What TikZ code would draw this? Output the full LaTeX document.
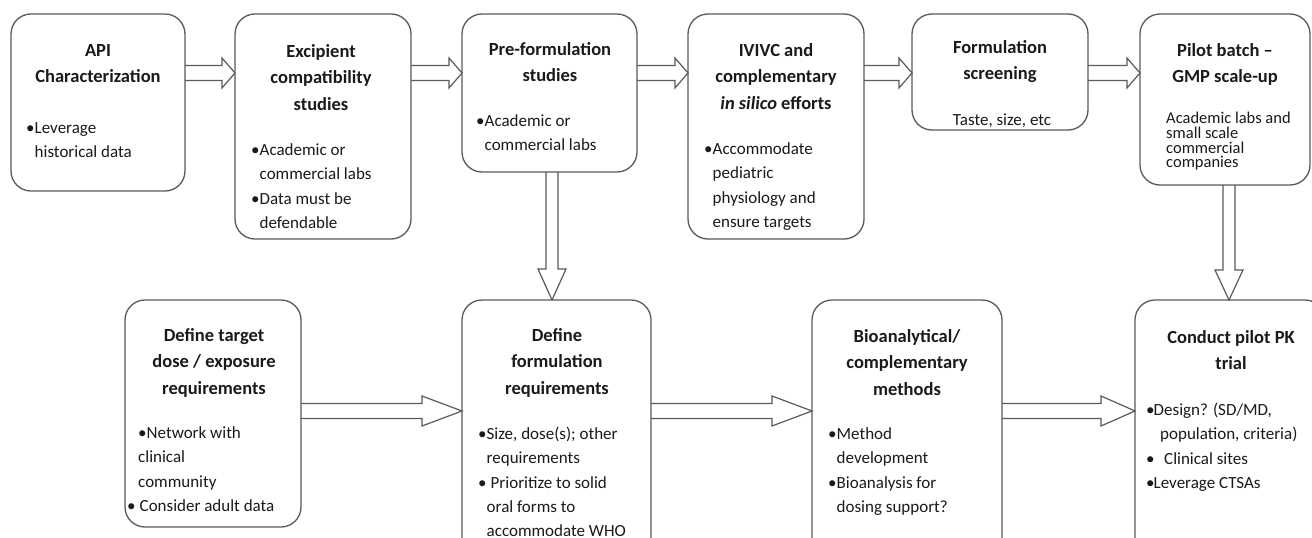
\documentclass[tikz,border=0pt]{standalone}
\usepackage{fontspec}
\setmainfont{Carlito}
\usetikzlibrary{calc}
\definecolor{boxline}{HTML}{5A5A5A}
\definecolor{txt}{HTML}{1A1A1A}
\newcommand\bul{\makebox[8.5pt][l]{\textbullet}}
\newcommand\myind{\hspace*{8.5pt}}
\newcommand\harr[4]{%
  \draw[arrowline] let \p1=(#1.east), \p2=(#2.west) in
    (\x1,#3+7.5) -- (\x2-#4,#3+7.5) -- (\x2-#4,#3+15) -- (\x2,#3)
    -- (\x2-#4,#3-15) -- (\x2-#4,#3-7.5) -- (\x1,#3-7.5);}
\newcommand\varr[4]{%
  \draw[arrowline] let \p1=(#1.south), \p2=(#2.north) in
    (#3-6,\y1) -- (#3-6,\y2+#4) -- (#3-14,\y2+#4) -- (#3,\y2)
    -- (#3+14,\y2+#4) -- (#3+6,\y2+#4) -- (#3+6,\y1);}
\begin{document}
\begin{tikzpicture}[x=1pt,y=1pt,
  box/.style={draw=boxline, line width=1.3pt, rounded corners=20pt, inner sep=0pt, outer sep=0pt},
  arrowline/.style={draw=boxline, line width=1.2pt, line join=miter},
  ttl/.style={text=txt, inner sep=0pt, align=center, anchor=base, font=\fontsize{18.5}{26.7}\selectfont\bfseries},
  bdy/.style={text=txt, inner sep=0pt, align=left, anchor=base west, font=\fontsize{17}{24.3}\selectfont},
  bdyc/.style={text=txt, inner sep=0pt, align=center, anchor=base, font=\fontsize{17}{24.3}\selectfont},
  bdys/.style={text=txt, inner sep=0pt, align=left, anchor=base west, font=\fontsize{16.5}{14.8}\selectfont}]
\fill[white] (0,0) rectangle (1312,-538);
\clip (0,0) rectangle (1312,-538);
% boxes
\node[box, minimum width=174, minimum height=177] (b1) at (98,-102.5) {};
\node[box, minimum width=176, minimum height=225] (b2) at (323,-126.5) {};
\node[box, minimum width=175, minimum height=158] (b3) at (549.5,-93) {};
\node[box, minimum width=176, minimum height=225] (b4) at (776,-126.5) {};
\node[box, minimum width=176, minimum height=116] (b5) at (1000,-72) {};
\node[box, minimum width=170, minimum height=171] (b6) at (1225,-99.5) {};
\node[box, minimum width=176, minimum height=227] (b7) at (213,-413.5) {};
\node[box, minimum width=189, minimum height=270] (b8) at (556.5,-435) {};
\node[box, minimum width=190, minimum height=270] (b9) at (907,-435) {};
\node[box, minimum width=190, minimum height=270] (b10) at (1230,-435) {};
% titles (anchor = baseline of last line)
\node[ttl] (t1) at (98,-82.7) {API\\Characterization};
\node[ttl] (t2) at (321,-110.4) {Excipient\\compatibility\\studies};
\node[ttl] (t3) at (550,-81.7) {Pre-formulation\\studies};
\node[ttl] (t4) at (776,-109.4) {IVIVC and\\complementary\\\textit{in silico} efforts};
\node[ttl] (t5) at (1000,-79.7) {Formulation\\screening};
\node[ttl] (t6) at (1225,-82.7) {Pilot batch –\\GMP scale-up};
\node[ttl] (t7) at (214,-394.4) {Define target\\dose / exposure\\requirements};
\node[ttl] (t8) at (557,-394.4) {Define\\formulation\\requirements};
\node[ttl] (t9) at (907,-395.4) {Bioanalytical/\\complementary\\methods};
\node[ttl] (t10) at (1231,-369.7) {Conduct pilot PK\\trial};
% bodies (anchor = baseline of last line)
\node[bdy] (d1) at (26,-157.8) {\bul Leverage\\\myind historical data};
\node[bdy] (d2) at (251,-228.4) {\bul Academic or\\\myind commercial labs\\\bul Data must be\\\myind defendable};
\node[bdy] (d3) at (476,-150.8) {\bul Academic or\\\myind commercial labs};
\node[bdy] (d4) at (704,-227.4) {\bul Accommodate\\\myind pediatric\\\myind physiology and\\\myind ensure targets};
\node[bdyc] (d5) at (1002,-125.5) {Taste, size, etc};
\node[bdys] (d6) at (1166,-167.9) {Academic labs and\\small scale\\commercial\\companies};
\node[bdy] (d7) at (127,-511.4) {\hspace*{11pt}\bul Network with\\\hspace*{11pt}clinical\\\hspace*{11pt}community\\\makebox[12.5pt][l]{\textbullet}Consider adult data};
\node[bdy] (d8) at (478,-536.7) {\bul Size, dose(s); other\\\myind requirements\\\makebox[12.5pt][l]{\textbullet}Prioritize to solid\\\myind oral forms to\\\myind accommodate WHO};
\node[bdy] (d9) at (828,-512.4) {\bul Method\\\myind development\\\bul Bioanalysis for\\\myind dosing support?};
\node[bdy] (d10) at (1146,-488.4) {\makebox[7.5pt][l]{\textbullet}Design? (SD/MD,\\\hspace*{14pt}population, criteria)\\\makebox[18pt][l]{\textbullet}Clinical sites\\\makebox[7.5pt][l]{\textbullet}Leverage CTSAs};
% arrows
\harr{b1}{b2}{-73}{13}
\harr{b2}{b3}{-73}{13}
\harr{b3}{b4}{-73}{13}
\harr{b4}{b5}{-73}{13}
\harr{b5}{b6}{-73}{13}
\harr{b7}{b8}{-411}{40}
\harr{b8}{b9}{-411}{40}
\harr{b9}{b10}{-411}{34}
\varr{b3}{b8}{552}{31}
\varr{b6}{b10}{1229}{30}
\end{tikzpicture}
\end{document}
